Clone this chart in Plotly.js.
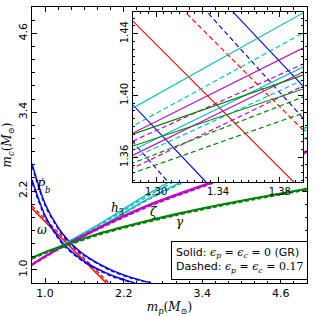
<!DOCTYPE html>
<html>
<head>
<meta charset="utf-8">
<script src="https://cdn.plot.ly/plotly-3.0.1.min.js"></script>
<style>html,body{margin:0;padding:0;background:#fff;}#chart{width:316px;height:316px;}</style>
</head>
<body>
<div id="chart"></div>
<script>
// ---- tick labels ----
const mainTicks = [1.0, 2.2, 3.4, 4.6];
const mainTickText = ['1.0', '2.2', '3.4', '4.6'];
const insetXTicks = [1.30, 1.34, 1.38];
const insetXTickText = ['1.30', '1.34', '1.38'];
const insetYTicks = [1.36, 1.40, 1.44];
const insetYTickText = ['1.36', '1.40', '1.44'];

// ---- omega (periastron advance), red ----
const omegaGR_mp = [0.8, 1.933];
const omegaGR_mc = [1.933, 0.8];
const omegaST_mp = [0.8, 1.9727];
const omegaST_mc = [1.9727, 0.8];

// ---- Pb dot, blue (two band edges) ----
const pbdotGR_A_mp = [0.8, 1.0, 1.2, 1.3497, 1.395, 1.6, 2.0, 2.3, 2.62];
const pbdotGR_A_mc = [2.615, 2.005, 1.643, 1.454, 1.4061, 1.229, 1.003, 0.889, 0.8];
const pbdotGR_B_mp = [0.8, 1.0, 1.2, 1.285, 1.3322, 1.6, 2.0, 2.37];
const pbdotGR_B_mc = [2.37, 1.825, 1.497, 1.3938, 1.344, 1.128, 0.923, 0.8];
const pbdotST_A_mp = [0.8, 1.0, 1.2, 1.3329, 1.395, 1.6, 2.0, 2.3, 2.6];
const pbdotST_A_mc = [2.58, 1.98, 1.625, 1.454, 1.3854, 1.215, 0.99, 0.878, 0.8];
const pbdotST_B_mp = [0.8, 1.0, 1.2, 1.285, 1.3077, 1.6, 2.0, 2.34];
const pbdotST_B_mc = [2.33, 1.80, 1.478, 1.3699, 1.344, 1.115, 0.91, 0.8];

// ---- h3, cyan ----
const h3GR_A_mp = [1.1, 1.285, 1.395, 1.8, 2.6, 3.4, 4.2, 5.0];
const h3GR_A_mc = [1.29, 1.3919, 1.4534, 1.68, 2.17, 2.60, 2.91, 3.17];
const h3GR_B_mp = [1.1, 1.285, 1.395, 1.8, 2.6, 3.4, 4.2, 5.0];
const h3GR_B_mc = [1.27, 1.3647, 1.4184, 1.63, 2.094, 2.48, 2.77, 3.01];
const h3ST_A_mp = [1.1, 1.285, 1.395, 1.8, 2.6, 3.4, 4.2, 5.0];
const h3ST_A_mc = [1.28, 1.3802, 1.4404, 1.66, 2.14, 2.56, 2.87, 3.13];
const h3ST_B_mp = [1.1, 1.285, 1.395, 1.8, 2.6, 3.4, 4.2, 5.0];
const h3ST_B_mc = [1.265, 1.3595, 1.41, 1.62, 2.08, 2.46, 2.75, 2.99];

// ---- zeta, magenta ----
const zetaGR_A_mp = [0.8, 1.0, 1.285, 1.395, 1.8, 2.6, 3.4, 4.2, 5.0];
const zetaGR_A_mc = [1.088, 1.213, 1.3757, 1.4307, 1.64, 2.0, 2.29, 2.56, 2.81];
const zetaGR_B_mp = [0.8, 1.0, 1.285, 1.395, 1.8, 2.6, 3.4, 4.2, 5.0];
const zetaGR_B_mc = [1.075, 1.198, 1.3614, 1.4152, 1.62, 1.98, 2.27, 2.54, 2.79];
const zetaST_A_mp = [0.8, 1.0, 1.285, 1.395, 1.8, 2.6, 3.4, 4.2, 5.0];
const zetaST_A_mc = [1.082, 1.207, 1.3705, 1.4203, 1.625, 1.985, 2.275, 2.545, 2.795];
const zetaST_B_mp = [0.8, 1.0, 1.285, 1.395, 1.8, 2.6, 3.4, 4.2, 5.0];
const zetaST_B_mc = [1.07, 1.19, 1.353, 1.4061, 1.61, 1.97, 2.26, 2.53, 2.78];

// ---- gamma, green ----
const gammaGR_A_mp = [0.8, 1.0, 1.285, 1.395, 1.8, 2.4, 3.0, 3.6, 4.2, 5.0];
const gammaGR_A_mc = [1.19, 1.275, 1.375, 1.4132, 1.55, 1.71, 1.853, 1.98, 2.095, 2.24];
const gammaGR_B_mp = [0.8, 1.0, 1.285, 1.395, 1.8, 2.4, 3.0, 3.6, 4.2, 5.0];
const gammaGR_B_mc = [1.182, 1.267, 1.3673, 1.4042, 1.54, 1.70, 1.843, 1.97, 2.085, 2.23];
const gammaST_A_mp = [0.8, 1.0, 1.285, 1.395, 1.8, 2.4, 3.0, 3.6, 4.2, 5.0];
const gammaST_A_mc = [1.17, 1.255, 1.3563, 1.399, 1.535, 1.695, 1.838, 1.965, 2.08, 2.225];
const gammaST_B_mp = [0.8, 1.0, 1.285, 1.395, 1.8, 2.4, 3.0, 3.6, 4.2, 5.0];
const gammaST_B_mc = [1.165, 1.25, 1.3498, 1.3886, 1.525, 1.685, 1.828, 1.955, 2.07, 2.215];

// ---- curve labels ----
const labelText = ['<i>Ṗ</i><sub><i>b</i></sub>', '<i>ω</i>', '<i>h</i><sub>3</sub>', '<i>ζ</i>', '<i>γ</i>'];
const labelMp = [0.975, 0.96, 2.10, 2.66, 3.06];
const labelMc = [2.27, 1.60, 1.93, 1.88, 1.73];

const RED = '#ff0000', BLUE = '#0000ff', CYAN = '#00bfbf', MAG = '#bf00bf', GREEN = '#008000';
const DASH_MAIN = '4px,2.5px';
const DASH_INSET = '5px,3px';

const curves = [
  [omegaGR_mp, omegaGR_mc, RED, false],
  [omegaST_mp, omegaST_mc, RED, true],
  [pbdotGR_A_mp, pbdotGR_A_mc, BLUE, false],
  [pbdotGR_B_mp, pbdotGR_B_mc, BLUE, false],
  [pbdotST_A_mp, pbdotST_A_mc, BLUE, true],
  [pbdotST_B_mp, pbdotST_B_mc, BLUE, true],
  [h3GR_A_mp, h3GR_A_mc, CYAN, false],
  [h3GR_B_mp, h3GR_B_mc, CYAN, false],
  [h3ST_A_mp, h3ST_A_mc, CYAN, true],
  [h3ST_B_mp, h3ST_B_mc, CYAN, true],
  [zetaGR_A_mp, zetaGR_A_mc, MAG, false],
  [zetaGR_B_mp, zetaGR_B_mc, MAG, false],
  [zetaST_A_mp, zetaST_A_mc, MAG, true],
  [zetaST_B_mp, zetaST_B_mc, MAG, true],
  [gammaGR_A_mp, gammaGR_A_mc, GREEN, false],
  [gammaGR_B_mp, gammaGR_B_mc, GREEN, false],
  [gammaST_A_mp, gammaST_A_mc, GREEN, true],
  [gammaST_B_mp, gammaST_B_mc, GREEN, true]
];

const traces = [];
curves.forEach(c => {
  traces.push({x: c[0], y: c[1], xaxis: 'x', yaxis: 'y', mode: 'lines',
    line: {color: c[2], dash: c[3] ? DASH_MAIN : 'solid', width: 1.4, shape: 'spline', smoothing: 0.8},
    hoverinfo: 'skip', showlegend: false});
});
curves.forEach(c => {
  traces.push({x: c[0], y: c[1], xaxis: 'x2', yaxis: 'y2', mode: 'lines',
    line: {color: c[2], dash: c[3] ? DASH_INSET : 'solid', width: 1.15, shape: 'linear'},
    hoverinfo: 'skip', showlegend: false});
});

const tickFont = {family: 'DejaVu Sans', size: 11, color: '#000'};
const insetTickFont = {family: 'DejaVu Sans', size: 10, color: '#000'};
const SERIF = 'DejaVu Serif';

const annotations = labelText.map((t, i) => ({
  x: labelMp[i], y: labelMc[i], xref: 'x', yref: 'y', text: t, showarrow: false,
  font: {family: SERIF, size: 12, color: '#000'}, xanchor: 'center', yanchor: 'middle'
}));

const eps = (s) => '<span style="font-family:DejaVu Serif"><i>ϵ</i><sub><i>p</i></sub> = <i>ϵ</i><sub><i>c</i></sub> = ' + s + '</span>';
annotations.push({
  xref: 'paper', yref: 'paper', x: 0.755, y: 0.0815, xanchor: 'center', yanchor: 'middle',
  text: 'Solid: ' + eps('0') + ' (GR)<br>Dashed: ' + eps('0.17'),
  showarrow: false, align: 'left', bordercolor: '#000', borderwidth: 1, borderpad: 4,
  bgcolor: '#fff', font: {family: 'DejaVu Sans', size: 11, color: '#000'}
});

const axisCommon = {
  showline: true, linecolor: '#000', linewidth: 1, mirror: 'allticks',
  ticks: 'inside', tickcolor: '#000', ticklen: 5, tickwidth: 1,
  showgrid: false, zeroline: false, tickmode: 'array'
};

const layout = {
  width: 316, height: 316,
  margin: {l: 32, r: 9, t: 7, b: 33, pad: 0},
  paper_bgcolor: '#fff', plot_bgcolor: '#fff',
  showlegend: false,
  xaxis: Object.assign({}, axisCommon, {
    domain: [0, 1], anchor: 'y', range: [0.8, 5.0],
    tickvals: mainTicks, ticktext: mainTickText, tickfont: tickFont,
    minor: {tickmode: 'linear', tick0: 1.0, dtick: 0.2, ticks: 'inside', ticklen: 2.5, tickcolor: '#000'},
    title: {text: '<i>m</i><sub><i>p</i></sub>(<i>M</i><sub>⊙</sub>)', font: {family: SERIF, size: 12, color: '#000'}, standoff: 5}
  }),
  yaxis: Object.assign({}, axisCommon, {
    domain: [0, 1], anchor: 'x', range: [0.8, 5.0],
    tickvals: mainTicks, ticktext: mainTickText, tickfont: tickFont, tickangle: -90,
    minor: {tickmode: 'linear', tick0: 1.0, dtick: 0.2, ticks: 'inside', ticklen: 2.5, tickcolor: '#000'},
    title: {text: '<i>m</i><sub><i>c</i></sub>(<i>M</i><sub>⊙</sub>)', font: {family: SERIF, size: 12, color: '#000'}, standoff: 2}
  }),
  xaxis2: Object.assign({}, axisCommon, {
    domain: [0.3673, 0.9855], anchor: 'y2', range: [1.285, 1.395],
    tickvals: insetXTicks, ticktext: insetXTickText, tickfont: insetTickFont,
    minor: {tickmode: 'linear', tick0: 1.30, dtick: 0.005, ticks: 'inside', ticklen: 2, tickcolor: '#000'}
  }),
  yaxis2: Object.assign({}, axisCommon, {
    domain: [0.3659, 0.9819], anchor: 'x2', range: [1.344, 1.454],
    tickvals: insetYTicks, ticktext: insetYTickText, tickfont: insetTickFont, tickangle: -90,
    minor: {tickmode: 'linear', tick0: 1.36, dtick: 0.005, ticks: 'inside', ticklen: 2, tickcolor: '#000'}
  }),
  annotations: annotations
};

Plotly.newPlot('chart', traces, layout, {staticPlot: true, displayModeBar: false});
</script>
</body>
</html>
